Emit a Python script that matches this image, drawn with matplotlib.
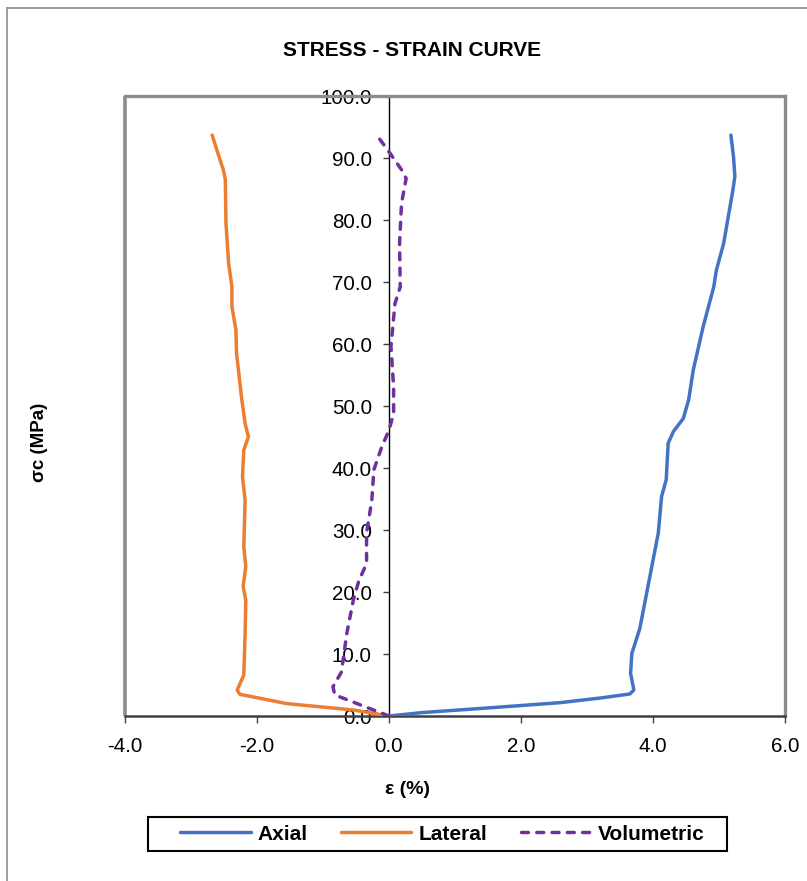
import matplotlib
matplotlib.use("Agg")
import matplotlib.pyplot as plt
from matplotlib.patches import Rectangle
from matplotlib.lines import Line2D

plt.rcParams['font.family'] = ['Liberation Sans', 'DejaVu Sans']

# Stress-strain test data (strain in %, stress in MPa)
axial_strain = [0.0, 0.5, 1.5, 2.59, 3.2, 3.65, 3.71, 3.66, 3.68, 3.80, 4.08, 4.13, 4.20,
                4.23, 4.31, 4.46, 4.54, 4.61, 4.76, 4.92, 4.96, 5.07, 5.21, 5.24, 5.22, 5.18]
axial_stress = [0.0, 0.55, 1.3, 2.15, 2.9, 3.55, 4.2, 6.9, 10.1, 14.1, 29.5, 35.4, 38.1,
                44.0, 45.9, 48.0, 51.0, 55.8, 62.8, 69.2, 71.9, 76.2, 84.8, 87.0, 90.2, 93.7]

lateral_strain = [0.0, -0.54, -1.55, -2.26, -2.30, -2.20, -2.18, -2.17, -2.21, -2.17, -2.20,
                  -2.18, -2.22, -2.20, -2.13, -2.18, -2.23, -2.31, -2.32, -2.38, -2.38,
                  -2.43, -2.47, -2.48, -2.51, -2.59, -2.68]
lateral_stress = [0.0, 0.97, 2.0, 3.5, 4.2, 6.6, 13.3, 18.7, 20.9, 24.1, 27.3,
                  34.8, 38.6, 42.9, 45.0, 47.2, 51.0, 58.5, 62.3, 66.0, 69.2,
                  73.0, 79.5, 86.5, 88.1, 90.7, 93.7]

volumetric_strain = [0.0, -0.34, -0.82, -0.85, -0.72, -0.64, -0.54, -0.46, -0.34, -0.34,
                     -0.26, -0.23, -0.11, 0.0, 0.07, 0.07, 0.03, 0.09, 0.17, 0.16, 0.19,
                     0.26, 0.19, 0.0, -0.20]
volumetric_stress = [0.0, 1.4, 3.4, 4.7, 7.1, 13.3, 18.7, 21.7, 24.6, 29.5,
                     34.8, 39.7, 43.4, 46.1, 48.8, 53.1, 59.6, 66.5, 69.2, 76.2, 82.7,
                     86.7, 88.1, 91.0, 93.9]

x_ticks = [-4.0, -2.0, 0.0, 2.0, 4.0, 6.0]
y_ticks = [0, 10, 20, 30, 40, 50, 60, 70, 80, 90, 100]

W, H = 807, 881
fig = plt.figure(figsize=(W / 100, H / 100), dpi=100)
ax = fig.add_axes([125 / W, 1 - 716 / H, 660 / W, 620 / H])

lw = 2.5
dash = (0, (2.0, 2.4))
ax.plot(axial_strain, axial_stress, color='#4472C4', lw=lw, label='Axial', zorder=3,
        solid_joinstyle='round', solid_capstyle='round')
ax.plot(lateral_strain, lateral_stress, color='#ED7D31', lw=lw, label='Lateral', zorder=3,
        solid_joinstyle='round', solid_capstyle='round')
ax.plot(volumetric_strain, volumetric_stress, color='#7030A0', lw=lw, label='Volumetric',
        ls=dash, zorder=3, dash_capstyle='round', dash_joinstyle='round')

ax.set_xlim(-4, 6)
ax.set_ylim(0, 100)
ax.set_xticks(x_ticks)
ax.set_xticklabels([f"{v:.1f}" for v in x_ticks])
ax.set_yticks(y_ticks)
ax.set_yticklabels([f"{v:.1f}" for v in y_ticks])

# plot area frame in gray, vertical axis crossing at zero strain
for s in ('top', 'right'):
    ax.spines[s].set_color('#8c8c8c')
    ax.spines[s].set_linewidth(2.4)
ax.spines['bottom'].set_color('#404040')
ax.spines['bottom'].set_linewidth(1.8)
ax.spines['left'].set_position(('data', 0))
ax.spines['left'].set_color('black')
ax.spines['left'].set_linewidth(1)
ax.add_patch(Rectangle((0, 0), 0, 1, transform=ax.transAxes, fill=False,
                       ec='#8c8c8c', lw=2.6, clip_on=False, zorder=1))

ax.tick_params(axis='both', direction='out', width=1, colors='#404040',
               labelcolor='black', labelsize=14.8)
ax.tick_params(axis='y', length=4.3, pad=8)
ax.tick_params(axis='x', length=5, pad=10)

fig.text(412 / W, 1 - 50.5 / H, 'STRESS - STRAIN CURVE', ha='center', va='center',
         fontsize=15, fontweight='bold')
fig.text(408 / W, 1 - 790 / H, 'ε (%)', ha='center', va='center',
         fontsize=14, fontweight='bold')
fig.text(40 / W, 1 - 442 / H, 'σc (MPa)', ha='center', va='center', rotation=90,
         fontsize=13.5, fontweight='bold')

# legend entries, boxed by a separate frame
leg = fig.legend(loc='center', bbox_to_anchor=(442.5 / W, 1 - 834 / H), ncol=3,
                 frameon=False, handlelength=3.37, columnspacing=1.6,
                 handletextpad=0.34, borderpad=0.3,
                 prop={'weight': 'bold', 'size': 15})
fig.add_artist(Rectangle((148 / W, 1 - 851 / H), 579 / W, 34 / H, fill=False,
                         ec='black', lw=1.5, transform=fig.transFigure))

# outer chart border
fig.add_artist(Line2D([7 / W, 7 / W], [0, 1 - 8 / H], color='#8c8c8c', lw=1.2))
fig.add_artist(Line2D([7 / W, 1], [1 - 8 / H, 1 - 8 / H], color='#8c8c8c', lw=1.2))

fig.savefig('out.png', dpi=100)
